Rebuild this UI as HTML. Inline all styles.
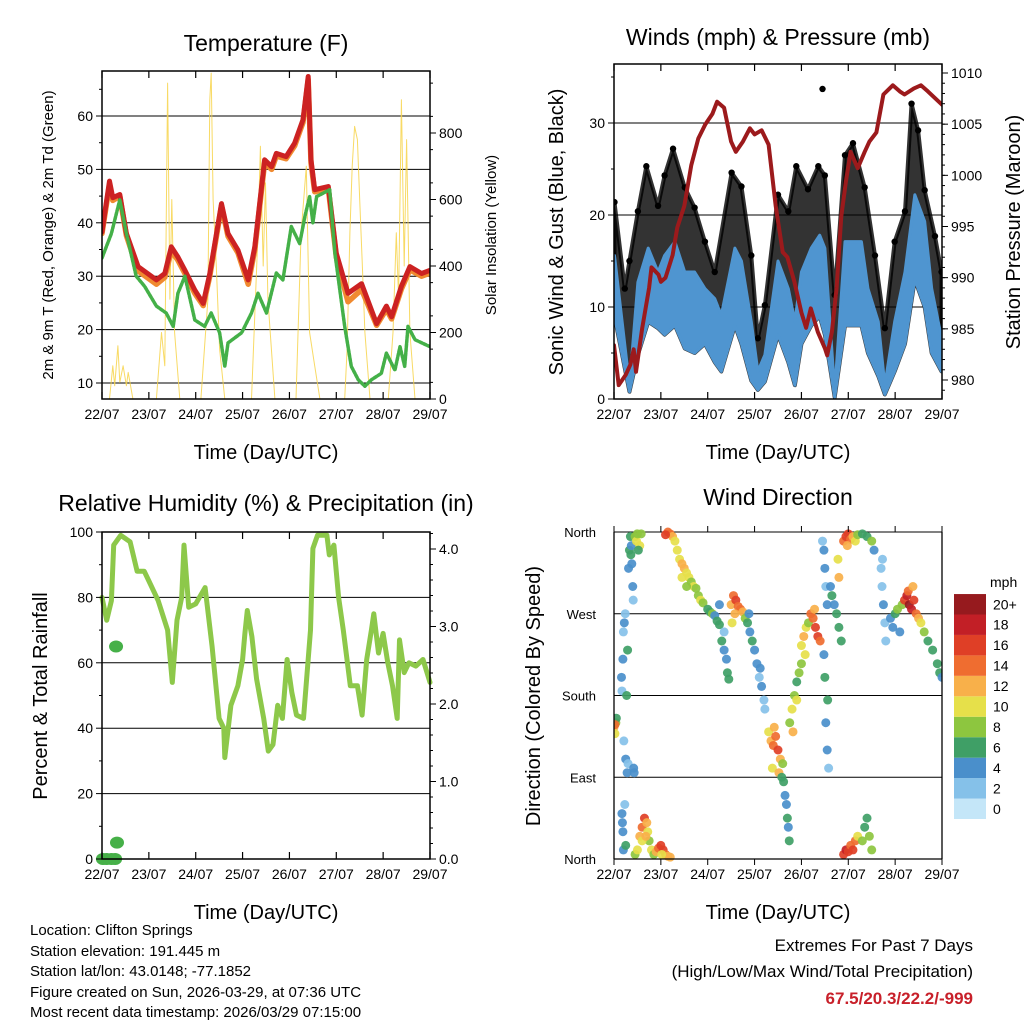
<!DOCTYPE html>
<html><head><meta charset="utf-8"><style>
html,body{margin:0;padding:0;background:#fff}
svg{display:block;font-family:"Liberation Sans",sans-serif}
</style></head><body>
<svg id="root" width="1024" height="1024" viewBox="0 0 1024 1024" xmlns="http://www.w3.org/2000/svg">
<text x="266" y="51" font-size="23" text-anchor="middle">Temperature (F)</text>
<text x="778" y="45" font-size="23" text-anchor="middle">Winds (mph) &amp; Pressure (mb)</text>
<text x="266" y="511" font-size="23" text-anchor="middle">Relative Humidity (%) &amp; Precipitation (in)</text>
<text x="778" y="505" font-size="23" text-anchor="middle">Wind Direction</text>
<text x="266" y="459" font-size="20" text-anchor="middle">Time (Day/UTC)</text>
<text x="778" y="459" font-size="20" text-anchor="middle">Time (Day/UTC)</text>
<text x="266" y="919" font-size="20" text-anchor="middle">Time (Day/UTC)</text>
<text x="778" y="919" font-size="20" text-anchor="middle">Time (Day/UTC)</text>
<text transform="translate(53,235) rotate(-90)" font-size="15" text-anchor="middle">2m &amp; 9m T (Red, Orange) &amp; 2m Td (Green)</text>
<text transform="translate(496,235) rotate(-90)" font-size="15" text-anchor="middle">Solar Insolation (Yellow)</text>
<text transform="translate(563,232) rotate(-90)" font-size="20" text-anchor="middle">Sonic Wind &amp; Gust (Blue, Black)</text>
<text transform="translate(1020,232) rotate(-90)" font-size="20" text-anchor="middle">Station Pressure (Maroon)</text>
<text transform="translate(47,696) rotate(-90)" font-size="20" text-anchor="middle">Percent &amp; Total Rainfall</text>
<text transform="translate(540,696) rotate(-90)" font-size="20" text-anchor="middle">Direction (Colored By Speed)</text>
<g font-size="15">
<text x="30" y="935">Location: Clifton Springs</text>
<text x="30" y="956">Station elevation: 191.445 m</text>
<text x="30" y="976">Station lat/lon: 43.0148; -77.1852</text>
<text x="30" y="997">Figure created on Sun, 2026-03-29, at 07:36 UTC</text>
<text x="30" y="1017">Most recent data timestamp: 2026/03/29 07:15:00</text>
</g>
<g font-size="17" text-anchor="end">
<text x="973" y="951">Extremes For Past 7 Days</text>
<text x="973" y="977">(High/Low/Max Wind/Total Precipitation)</text>
<text x="973" y="1004" fill="#c8202a" font-weight="bold">67.5/20.3/22.2/-999</text>
</g>
</svg>
<script>
// ---------- DATA ----------
const dayLabels = ["22/07","23/07","24/07","25/07","26/07","27/07","28/07","29/07"];
const tempTimes = [0,0.16,0.23,0.38,0.52,0.77,1.16,1.34,1.48,1.62,1.77,1.98,2.16,2.3,2.55,2.69,2.9,3.12,3.26,3.47,3.62,3.72,3.93,4.11,4.29,4.4,4.46,4.54,4.83,5.0,5.25,5.54,5.86,6.07,6.18,6.39,6.57,6.82,7.0];
const temp2m = [38.3,47.8,44.7,45.3,38,31.8,29.3,30.5,35.5,33.6,31.1,27.4,24.9,30.5,43.6,38,34.9,29.3,35.5,51.8,50.5,53,52.4,54.9,59.3,67.4,51.8,46.2,46.8,34.3,26.8,28.6,21.1,24.4,22.4,28.1,31.8,30.5,31.1];
const temp9m = [38.0,47.2,44.2,45.0,37.6,31.0,28.5,29.8,34.8,33.0,30.5,26.8,24.5,30.0,43.2,37.5,34.4,28.5,35.0,51.2,50.0,52.5,52.0,54.4,58.8,66.8,51.2,45.8,46.4,33.6,25.2,27.5,20.8,23.8,22.0,27.6,31.2,30.0,30.6];
const tdTimes = [0,0.2,0.38,0.52,0.73,0.91,1.16,1.37,1.52,1.62,1.77,1.98,2.19,2.33,2.51,2.62,2.69,2.98,3.19,3.33,3.51,3.72,3.86,4.04,4.22,4.33,4.43,4.5,4.58,4.86,4.97,5.18,5.32,5.47,5.61,5.75,5.96,6.07,6.25,6.36,6.46,6.53,6.68,7.0];
const dewpoint = [33.4,38,44.3,38,30,28.1,24.4,23.1,20.6,26.8,30,21.8,20.6,23.1,19.4,13.1,17.5,19.4,23.1,26.8,23.1,30.6,29.3,39.3,36.1,41.2,44.9,40,44.9,46.2,34.3,20.6,13.1,10.6,9.4,10.6,11.8,15.6,12.4,16.8,13.1,20.6,18.1,16.8];
const solarTimes = [0.16,0.23,0.27,0.34,0.38,0.45,0.52,0.56,0.66, 1.16,1.27,1.34,1.4,1.45,1.49,1.55,1.66, 2.11,2.26,2.3,2.33,2.37,2.44,2.51,2.62, 3.19,3.33,3.38,3.44,3.49,3.54,3.69, 4.14,4.25,4.36,4.43,4.54,4.65, 5.18,5.23,5.29,5.34,5.39,5.45,5.5,5.55,5.61,5.72, 6.11,6.21,6.28,6.33,6.39,6.45,6.5,6.57,6.68];
const solarValues = [0,100,40,160,50,100,40,80,0, 0,200,100,950,300,600,200,0, 0,300,900,980,600,400,150,0, 0,500,760,400,650,300,0, 0,500,700,200,100,0, 0,150,500,700,820,780,600,420,200,0, 0,200,500,300,900,400,780,200,0];
const sustTimes = [0.01,0.33,0.51,0.73,0.94,1.08,1.30,1.51,1.72,1.94,2.15,2.29,2.58,2.72,2.93,3.07,3.22,3.50,3.72,3.86,4.0,4.21,4.39,4.50,4.71,4.93,5.28,5.42,5.64,5.78,5.99,6.21,6.42,6.63,6.78,6.99];
const sustHigh = [15.6,1.5,12.7,16.4,13.8,15.6,17.1,13.8,13.8,12.0,10.9,9.1,16.4,15.0,8.4,3.0,4.8,15.0,12.0,8.4,13.8,16.4,17.8,16.4,0.8,17.1,17.1,12.0,8.4,1.5,8.4,13.8,22.2,19.3,12.0,6.6];
const sustLow = [9,0.8,4.8,8.4,7.7,7,8,5.5,5,6,4,3,8,6,2,1,1.9,7,4,1.5,6,8,9,7,0.2,8,8,5,2.5,0.5,3,6,13,10,5,3];
const gustTimes = [0.01,0.23,0.33,0.51,0.69,0.94,1.08,1.26,1.51,1.72,1.94,2.15,2.51,2.72,2.93,3.07,3.22,3.50,3.72,3.89,4.14,4.36,4.50,4.71,4.93,5.10,5.35,5.57,5.78,5.99,6.21,6.35,6.49,6.63,6.85,6.99];
const gustValues = [21.4,12,15,20.4,25.3,21,24.3,27.2,23,20.8,17.1,13.8,24.6,23.1,15.6,6.6,10.2,22.2,20.4,25.3,22.8,25.3,24.3,11.3,26.5,27.8,23,15.6,7.7,17.1,20.4,32.1,29.2,22.7,17.7,13.8];
const gustOutlierTime = [4.45];
const gustOutlierValue = [33.7];
const presTimes = [0,0.1,0.25,0.35,0.42,0.47,0.6,0.75,0.8,0.95,1.0,1.1,1.25,1.35,1.5,1.65,1.8,1.95,2.1,2.2,2.35,2.5,2.6,2.75,2.9,3.0,3.15,3.3,3.45,3.6,3.7,3.85,4.0,4.1,4.2,4.35,4.5,4.55,4.65,4.75,4.85,4.95,5.05,5.2,5.35,5.45,5.6,5.75,5.95,6.1,6.2,6.4,6.55,6.7,7.0];
const presValues = [983.4,979.5,980.5,981.5,983,980.8,985,989,991,990.3,989.6,990,992.2,994.9,997,1001,1003.6,1005,1006,1007.2,1006.6,1003.3,1002.3,1003.3,1004.6,1004,1004.4,1003,997,992.5,992,989.6,986.6,985.1,987,984.7,983.1,982.4,984.7,989,996,999.4,1002.3,1000.7,1002.3,1003.3,1004.2,1007.9,1008.8,1008.2,1007.9,1008.5,1008.8,1008.2,1006.9];
const rhTimes = [0,0.1,0.2,0.25,0.4,0.6,0.75,0.9,1.0,1.2,1.4,1.5,1.6,1.7,1.75,1.85,2.0,2.2,2.35,2.5,2.6,2.62,2.75,2.9,3.0,3.05,3.1,3.2,3.3,3.45,3.55,3.65,3.75,3.85,3.95,4.05,4.15,4.3,4.45,4.5,4.6,4.8,4.85,4.95,5.05,5.15,5.3,5.45,5.55,5.65,5.75,5.8,5.9,6.0,6.1,6.2,6.3,6.35,6.45,6.55,6.7,6.85,7.0];
const rhValues = [80,73,79,96,99,97,88,88,85,79,70,54,73,80,96,77,78,83,65,43,40,31,47,53,61,69,76,68,55,43,33,35,47,43,61,51,44,43,70,95,99,99,93,96,80,70,53,53,44,61,70,75,63,69,60,53,43,67,57,60,59,61,54];
const precipTimes = [0.02,0.1,0.2,0.28,0.32,0.3];
const precipValues = [0,0,0,0,5,65];
const dirTimes = [0,0.02,0.04,0.05,0.02, 0.16,0.17,0.19,0.2,0.22,0.24,0.21,0.25,0.28,0.3,0.27,0.29,0.31,0.33,0.35,0.37,0.4,0.41,0.42,0.43,0.36,0.38, 0.17,0.18,0.19,0.2,0.23,0.25, 0.45,0.48,0.5,0.55,0.58,0.52, 0.45,0.5,0.55,0.6,0.65,0.7,0.72,0.75,0.8,0.85,0.9,0.95,1.0,1.05,1.1,1.15,0.6,0.68,1.02,1.2, 1.15,1.2,1.25,1.3,1.35,1.1, 1.4,1.45,1.5,1.55,1.6,1.65,1.7,1.75,1.8,1.85,1.9,1.45,1.55, 2.0,2.05,2.1,2.15,2.2,2.25,2.3,2.35,2.4,2.42,2.45,2.25,2.35, 2.5,2.55,2.6,2.65,2.7,2.75,2.58,2.52,2.8, 2.85,2.9,2.95,3.0,2.88, 3.05,3.1,3.15,3.2,3.12,3.22, 3.3,3.35,3.4,3.45,3.5,3.55,3.38,3.52,3.42,3.6, 3.58,3.62,3.65,3.68,3.7,3.72,3.74, 3.75,3.8,3.85,3.9,3.95,4.0,3.82,3.9, 4.0,4.05,4.1,4.15,4.08, 4.2,4.25,4.3,4.35,4.4,4.28, 4.45,4.48,4.5,4.52,4.55,4.5,4.52,4.55,4.58,4.56,4.48, 4.62,4.65,4.7,4.75,4.8,4.85,4.78,4.8, 4.9,4.95,5.0,5.05,5.1,5.15,5.2,5.3,5.4,5.5,5.55,4.98, 4.9,4.95,5.0,5.05,5.1,5.15,5.2,5.3,5.35,5.4,5.45,5.5, 5.7,5.72,5.75,5.78,5.8,5.73, 5.9,5.95,6.0,6.05,6.1,6.15, 6.2,6.25,6.3,6.35,6.4,6.45,6.5,6.55,6.28,6.38, 6.62,6.7,6.8,6.9,6.95,7.0];
const dirValues = [145,138,150,155,148, 200,185,220,250,260,270,130,110,95,105,180,230,320,340,355,345,300,285,100,95,335,325, 50,40,30,10,60,15, 355,350,358,345,358,340, 5,10,25,35,45,40,30,20,10,5,8,12,15,10,5,3,20,25,5,2, 360,358,355,350,340,357, 330,325,320,315,310,305,300,298,290,285,282,310,300, 275,272,270,268,262,258,240,230,220,205,198,280,250, 280,290,285,278,275,272,270,260,265, 260,250,240,230,270, 215,200,190,175,210,165, 140,130,125,135,120,110,100,95,145,105, 90,85,70,60,45,35,20, 150,165,180,195,205,215,140,175, 235,245,255,260,225, 270,265,255,245,240,275, 350,340,320,300,280,200,150,120,100,175,225, 300,290,280,270,255,240,330,310, 350,355,358,352,355,350,357,358,355,350,340,345, 5,10,8,15,10,20,25,20,35,45,25,10, 320,300,280,260,240,330, 265,255,270,275,250,280, 285,290,280,275,285,270,265,260,295,300, 250,240,230,215,205,200];
const dirSpeeds = [12,10,8,6,14, 4,3,5,3,4,2,3,4,4,3,6,6,4,6,7,5,4,3,4,4,6,5, 4,4,5,4,2,6, 8,10,9,10,8,7, 9,10,12,14,16,13,10,8,11,9,12,14,16,17,14,12,10,12,10,12, 14,15,12,10,11,16, 10,12,13,10,11,9,10,8,9,11,8,10,9, 7,6,8,5,6,7,6,5,5,6,7,4,3, 12,14,16,14,15,13,12,11,8, 6,5,6,5,4, 4,3,4,2,4,3, 10,12,14,15,16,13,10,12,12,9, 6,6,5,5,7,4,6, 9,10,8,7,9,8,12,10, 11,12,10,9,10, 14,15,16,17,14,13, 3,4,4,3,5,6,5,4,3,6,4, 5,6,5,6,7,6,10,12, 14,16,17,15,12,10,9,7,6,8,5,13, 16,18,17,14,16,14,10,8,7,6,9,8, 3,2,4,3,2,2, 4,5,7,8,4,9, 16,18,20,19,16,14,12,10,14,12, 8,7,6,6,7,5];
const speedBinLabels = ["0","2","4","6","8","10","12","14","16","18","20+"];
const speedBinColors = ["#c4e6f8","#85c1e9","#4a8fcb","#3f9f66","#8dc63f","#e6e04a","#f8b04a","#ef6d30","#df3f26","#c21f26","#961a1e"];

// ---------- HELPERS ----------
const NS = "http://www.w3.org/2000/svg";
const root = document.getElementById("root");
function mk(tag, attrs, parent) {
  const el = document.createElementNS(NS, tag);
  for (const k in attrs) el.setAttribute(k, attrs[k]);
  (parent || root).appendChild(el);
  return el;
}
function lin(d0, d1, r0, r1) { return v => r0 + (v - d0) * (r1 - r0) / (d1 - d0); }
function panel(name) {
  const g = mk("g", {});
  
  
  return g;
}
function frame(g, x0, y0, x1, y1) {
  const r = mk("rect", {x: x0, y: y0, width: x1 - x0, height: y1 - y0, fill: "none", stroke: "#000", "stroke-width": 1.5}, g);
  
  
}
function xAxis(g, x, y0, y1) {
  for (let i = 0; i < dayLabels.length; i++) {
    const px = x(i);
    const t1 = mk("line", {x1: px, x2: px, y1: y1, y2: y1 - 7, stroke: "#000", "stroke-width": 1.2}, g);
    
    
    mk("line", {x1: px, x2: px, y1: y0, y2: y0 + 7, stroke: "#000", "stroke-width": 1.2}, g);
    const lb = mk("text", {x: px, y: y1 + 20, "font-size": 14, "text-anchor": "middle"}, g);
    lb.textContent = dayLabels[i];
    
    
  }
}
function hGrid(g, y, vals, x0, x1) {
  vals.forEach(v => {
    const l = mk("line", {x1: x0, x2: x1, y1: y(v), y2: y(v), stroke: "#000", "stroke-width": 1}, g);
    
    
  });
}
function yTicks(g, y, vals, labels, xEdge, side, minors) {
  vals.forEach((v, i) => {
    const py = y(v);
    mk("line", {x1: xEdge, x2: xEdge + (side === "left" ? -6 : 6), y1: py, y2: py, stroke: "#000", "stroke-width": 1}, g);
    const t = mk("text", {x: side === "left" ? xEdge - 9 : xEdge + 9, y: py + 5, "font-size": 14, "text-anchor": side === "left" ? "end" : "start"}, g);
    t.textContent = labels[i];
    
    
  });
  (minors || []).forEach(v => {
    const py = y(v);
    mk("line", {x1: xEdge, x2: xEdge + (side === "left" ? -3 : 3), y1: py, y2: py, stroke: "#000", "stroke-width": 1}, g);
  });
}
function polyline(g, xs, ys, x, y, color, w, name) {
  const pts = xs.map((t, i) => x(t).toFixed(1) + "," + y(ys[i]).toFixed(1)).join(" ");
  const p = mk("polyline", {points: pts, fill: "none", stroke: color, "stroke-width": w, "stroke-linejoin": "round", "stroke-linecap": "round"}, g);
  
  
  return p;
}
function range(a, b, s) { const r = []; for (let v = a; v <= b + 1e-9; v += s) r.push(+v.toFixed(3)); return r; }

// ---------- PANEL 1 ----------
(function () {
  const g = panel("temperature-panel");
  const X0 = 102, X1 = 430, Y0 = 71, Y1 = 399;
  const x = lin(0, 7, X0, X1);
  const y = lin(10, 60, 383, 116);
  const ys = lin(0, 800, 399, 133);
  const clip = mk("clipPath", {id: "c1"}, g);
  mk("rect", {x: X0, y: Y0, width: X1 - X0, height: Y1 - Y0}, clip);
  hGrid(g, y, [10, 20, 30, 40, 50, 60], X0, X1);
  const d = mk("g", {"clip-path": "url(#c1)"}, g);
  polyline(d, solarTimes, solarValues, x, ys, "#f7d44a", 1, "solar-insolation-line").setAttribute("opacity", "0.85");
  polyline(d, tempTimes, temp9m, x, y, "#f08a30", 5.5, "temp-9m-line");
  polyline(d, tempTimes, temp2m, x, y, "#cc2222", 5, "temp-2m-line");
  polyline(d, tdTimes, dewpoint, x, y, "#44b048", 3.5, "dewpoint-line").setAttribute("stroke-dasharray", "3 1.5");
  frame(g, X0, Y0, X1, Y1);
  xAxis(g, x, Y0, Y1);
  yTicks(g, y, [10, 20, 30, 40, 50, 60], ["10", "20", "30", "40", "50", "60"], X0, "left", [15, 25, 35, 45, 55, 65]);
  yTicks(g, ys, [0, 200, 400, 600, 800], ["0", "200", "400", "600", "800"], X1, "right", range(50, 950, 100));
})();

// ---------- PANEL 2 ----------
(function () {
  const g = panel("winds-panel");
  const X0 = 614, X1 = 942, Y0 = 64, Y1 = 399;
  const x = lin(0, 7, X0, X1);
  const y = lin(0, 30, 399, 123);
  const yp = lin(980, 1010, 380, 73);
  const clip = mk("clipPath", {id: "c2"}, g);
  mk("rect", {x: X0, y: Y0, width: X1 - X0, height: Y1 - Y0}, clip);
  hGrid(g, y, [10, 20, 30], X0, X1);
  const d = mk("g", {"clip-path": "url(#c2)"}, g);
  let pts = gustTimes.map((t, i) => x(t) + "," + y(gustValues[i]));
  pts = pts.concat(sustTimes.slice().reverse().map((t, i) => x(t) + "," + y(sustLow[sustTimes.length - 1 - i])));
  const gb = mk("polygon", {points: pts.join(" "), fill: "#000", "fill-opacity": 0.8, stroke: "#000", "stroke-width": 4, "stroke-opacity": 0.8, "stroke-linejoin": "round"}, d);
  
  
  gustTimes.forEach((t, i) => {
    const c = mk("circle", {cx: x(t), cy: y(gustValues[i]), r: 3.2, fill: "#000"}, d);
    
    
  });
  gustOutlierTime.forEach((t, i) => {
    const c = mk("circle", {cx: x(t), cy: y(gustOutlierValue[i]), r: 3.2, fill: "#000"}, d);
    
    
  });
  let sp = sustTimes.map((t, i) => x(t) + "," + y(sustHigh[i]));
  sp = sp.concat(sustTimes.slice().reverse().map((t, i) => x(t) + "," + y(sustLow[sustTimes.length - 1 - i])));
  const sb = mk("polygon", {points: sp.join(" "), fill: "#4f95d0", stroke: "#4f95d0", "stroke-width": 3, "stroke-linejoin": "round"}, d);
  
  
  polyline(d, presTimes, presValues, x, yp, "#9c1a1c", 4, "pressure-line");
  frame(g, X0, Y0, X1, Y1);
  xAxis(g, x, Y0, Y1);
  yTicks(g, y, [0, 10, 20, 30], ["0", "10", "20", "30"], X0, "left", [5, 15, 25, 35]);
  yTicks(g, yp, [980, 985, 990, 995, 1000, 1005, 1010], ["980", "985", "990", "995", "1000", "1005", "1010"], X1, "right", range(979, 1010, 1));
})();

// ---------- PANEL 3 ----------
(function () {
  const g = panel("humidity-panel");
  const X0 = 102, X1 = 430, Y0 = 532, Y1 = 859;
  const x = lin(0, 7, X0, X1);
  const y = lin(0, 100, 859, 532);
  const yr = lin(0, 4, 859, 549);
  hGrid(g, y, [20, 40, 60, 80], X0, X1);
  polyline(g, rhTimes, rhValues, x, y, "#8dc84a", 5, "relative-humidity-line");
  precipTimes.forEach((t, i) => {
    const c = mk("ellipse", {cx: x(t), cy: y(precipValues[i]), rx: 7, ry: 6, fill: "#46b048"}, g);
    
    
  });
  frame(g, X0, Y0, X1, Y1);
  xAxis(g, x, Y0, Y1);
  yTicks(g, y, [0, 20, 40, 60, 80, 100], ["0", "20", "40", "60", "80", "100"], X0, "left", [10, 30, 50, 70, 90]);
  yTicks(g, yr, [0, 1, 2, 3, 4], ["0.0", "1.0", "2.0", "3.0", "4.0"], X1, "right", range(0.2, 4.2, 0.2));
})();

// ---------- PANEL 4 ----------
(function () {
  const g = panel("wind-direction-panel");
  const X0 = 614, X1 = 942, Y0 = 532, Y1 = 859;
  const x = lin(0, 7, X0, X1);
  const y = lin(0, 360, 859, 532);
  hGrid(g, y, [90, 180, 270, 360], X0, X1);
  const clip = mk("clipPath", {id: "c4"}, g);
  mk("rect", {x: X0, y: Y0 - 6, width: X1 - X0, height: Y1 - Y0 + 12}, clip);
  const d = mk("g", {"clip-path": "url(#c4)"}, g);
  dirTimes.forEach((t, i) => {
    const bin = Math.min(10, Math.floor(dirSpeeds[i] / 2));
    const c = mk("circle", {cx: x(t), cy: y(dirValues[i]), r: 4.5, fill: speedBinColors[bin], opacity: 0.92}, d);
    
    
  });
  mk("line", {x1: X0, x2: X0, y1: Y0, y2: Y1, stroke: "#000", "stroke-width": 1.3}, g);
  mk("line", {x1: X1, x2: X1, y1: Y0, y2: Y1, stroke: "#000", "stroke-width": 1.3}, g);
  mk("line", {x1: X0, x2: X1, y1: Y1, y2: Y1, stroke: "#000", "stroke-width": 1.3}, g);
  for (let i = 0; i < dayLabels.length; i++) {
    const px = x(i);
    mk("line", {x1: px, x2: px, y1: Y1, y2: Y1 + 6, stroke: "#000"}, g);
    mk("line", {x1: px, x2: px, y1: Y0, y2: Y0 - 6, stroke: "#000"}, g);
    const lb = mk("text", {x: px, y: Y1 + 20, "font-size": 14, "text-anchor": "middle"}, g);
    lb.textContent = dayLabels[i];
    
    
  }
  const dirTickVals = [0, 90, 180, 270, 360];
  const dirTickLabels = ["North", "East", "South", "West", "North"];
  dirTickVals.forEach((v, i) => {
    const t = mk("text", {x: 596, y: y(v) + 5, "font-size": 13, "text-anchor": "end"}, g);
    t.textContent = dirTickLabels[i];
    
    
  });
  const cb = mk("g", {}, g);
  
  
  const bh = 20.45;
  speedBinColors.forEach((c, i) => {
    const yy = 819 - (i + 1) * bh;
    const r = mk("rect", {x: 954, y: yy, width: 32, height: bh, fill: c}, cb);
    
    
    const t = mk("text", {x: 993, y: yy + bh / 2 + 5, "font-size": 14}, cb);
    t.textContent = speedBinLabels[i];
    
    
  });
  const u = mk("text", {x: 990, y: 587, "font-size": 14}, cb);
  u.textContent = "mph";
  
  
})();
</script>
</body></html>
